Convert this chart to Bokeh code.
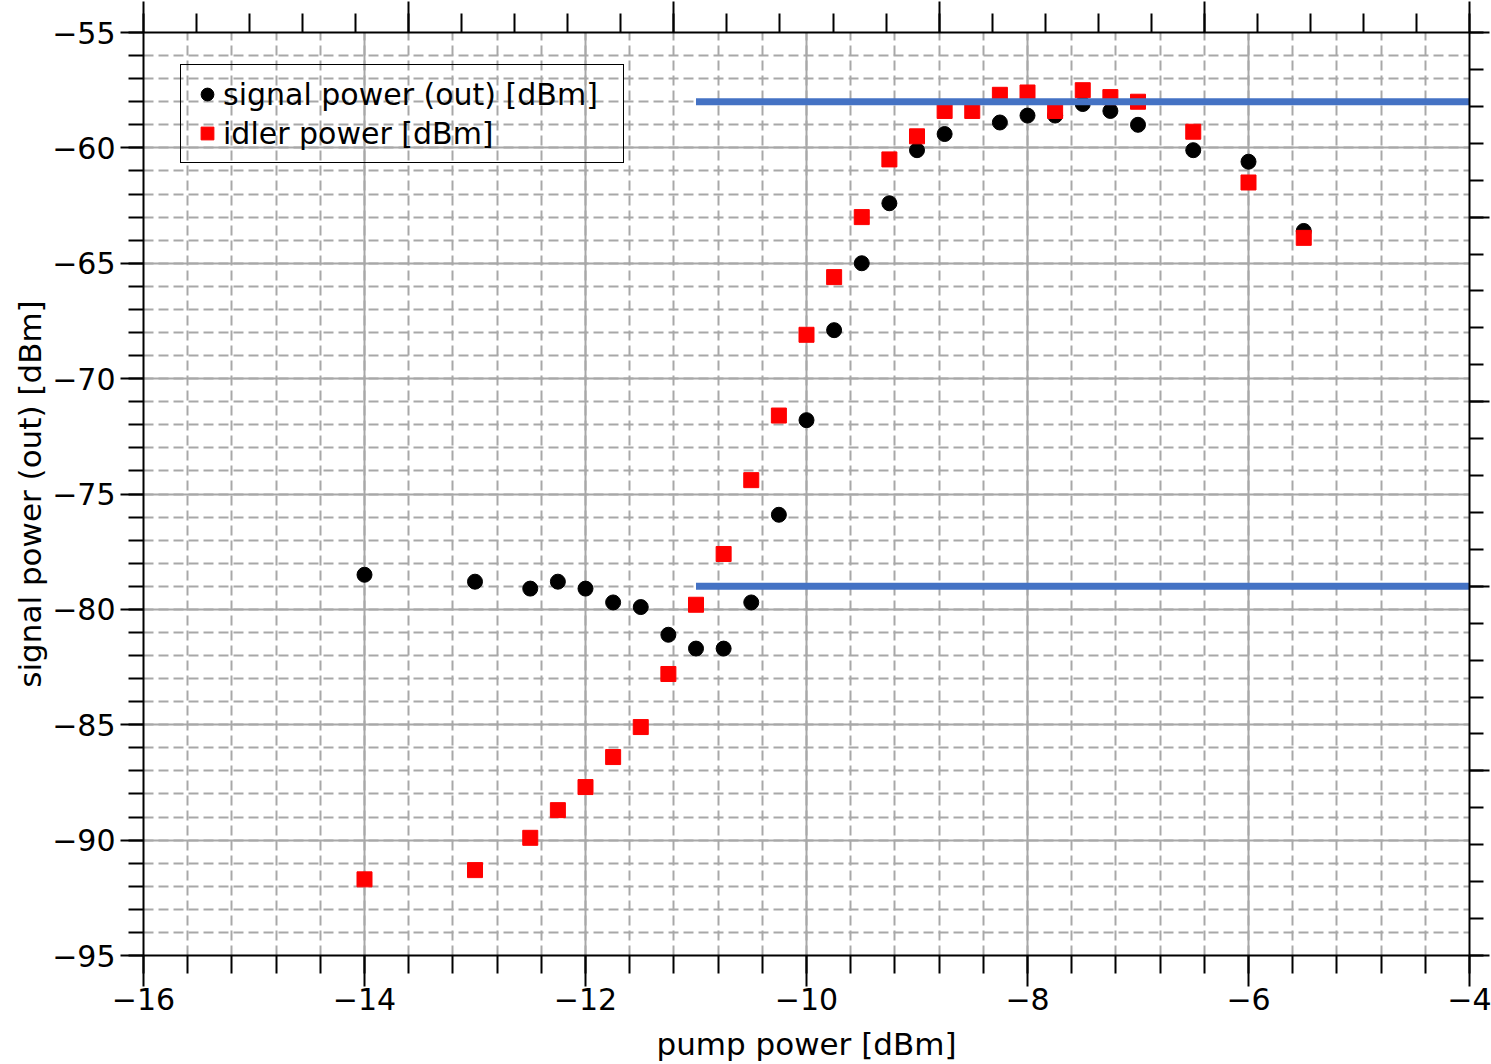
from bokeh.plotting import figure
from bokeh.models import (Range1d, LinearAxis, SingleIntervalTicker, CustomJSTickFormatter,
                          Legend, LegendItem, ColumnDataSource, Grid)
from bokeh.embed import file_html
from bokeh.resources import INLINE

# ---- data ----
signal_x = [-14, -13, -12.5, -12.25, -12, -11.75, -11.5, -11.25, -11, -10.75, -10.5,
            -10.25, -10, -9.75, -9.5, -9.25, -9, -8.75, -8.25, -8, -7.75, -7.5,
            -7.25, -7, -6.5, -6, -5.5]
signal_y = [-78.5, -78.8, -79.1, -78.8, -79.1, -79.7, -79.9, -81.1, -81.7, -81.7, -79.7,
            -75.9, -71.8, -67.9, -65.0, -62.4, -60.1, -59.4, -58.9, -58.6, -58.6, -58.1,
            -58.4, -59.0, -60.1, -60.6, -63.6]

idler_x = [-14, -13, -12.5, -12.25, -12, -11.75, -11.5, -11.25, -11, -10.75, -10.5,
           -10.25, -10, -9.75, -9.5, -9.25, -9, -8.75, -8.5, -8.25, -8, -7.75, -7.5,
           -7.25, -7, -6.5, -6, -5.5]
idler_y = [-91.7, -91.3, -89.9, -88.7, -87.7, -86.4, -85.1, -82.8, -79.8, -77.6, -74.4,
           -71.6, -68.1, -65.6, -63.0, -60.5, -59.5, -58.4, -58.4, -57.7, -57.6, -58.4, -57.5,
           -57.8, -58.0, -59.3, -61.5, -63.9]

ref_levels = [-58.0, -79.0]
ref_start = -11.0

x_min, x_max = -16, -4
y_min, y_max = -95, -55

signal_label = "signal power (out) [dBm]"
idler_label = "idler power [dBm]"
x_title = "pump power [dBm]"
y_title = "signal power (out) [dBm]"

FONT = "DejaVu Sans"
GRID = "#a8a8a8"

p = figure(width=1491, height=1064, output_backend="svg", toolbar_location=None,
           x_range=Range1d(x_min, x_max), y_range=Range1d(y_min, y_max),
           min_border_left=143, min_border_right=22, min_border_top=32, min_border_bottom=109,
           x_axis_location=None, y_axis_location=None)
p.outline_line_color = None
p.background_fill_color = "white"
p.border_fill_color = "white"

minus_fmt = CustomJSTickFormatter(code="return tick < 0 ? '\\u2212' + Math.abs(tick) : String(tick);")
blank_fmt = CustomJSTickFormatter(code="return '';")

xticker = SingleIntervalTicker(interval=2, num_minor_ticks=5)
yticker = SingleIntervalTicker(interval=5, num_minor_ticks=5)

def style_axis(ax, tick_out, minor_out):
    ax.axis_line_color = "black"
    ax.axis_line_width = 2
    ax.major_tick_line_color = "black"
    ax.major_tick_line_width = 2
    ax.minor_tick_line_color = "black"
    ax.minor_tick_line_width = 2
    ax.major_tick_in = 0
    ax.minor_tick_in = 0
    ax.major_tick_out = tick_out
    ax.minor_tick_out = minor_out
    ax.major_label_text_font = FONT
    ax.major_label_text_font_size = "30px"
    ax.major_label_text_color = "black"
    ax.axis_label_text_font = FONT
    ax.axis_label_text_font_size = "31px"
    ax.axis_label_text_font_style = "normal"
    ax.axis_label_text_color = "black"

xaxis = LinearAxis(ticker=xticker, formatter=minus_fmt, axis_label=x_title)
style_axis(xaxis, 31, 18)
xaxis.major_label_standoff = 1
xaxis.axis_label_standoff = 13
p.add_layout(xaxis, "below")

yaxis = LinearAxis(ticker=yticker, formatter=minus_fmt, axis_label=y_title)
style_axis(yaxis, 23, 15)
yaxis.major_label_standoff = 5
yaxis.axis_label_standoff = 1
p.add_layout(yaxis, "left")

p.extra_x_ranges = {"top": Range1d(0, 5)}
p.extra_y_ranges = {"right": Range1d(0, 5)}
top_axis = LinearAxis(x_range_name="top", ticker=SingleIntervalTicker(interval=1, num_minor_ticks=5),
                      formatter=blank_fmt)
style_axis(top_axis, 31, 19)
top_axis.major_label_text_font_size = "1px"
top_axis.major_label_standoff = 0
p.add_layout(top_axis, "above")

right_axis = LinearAxis(y_range_name="right", ticker=SingleIntervalTicker(interval=1, num_minor_ticks=5),
                        formatter=blank_fmt)
style_axis(right_axis, 20, 14)
right_axis.major_label_text_font_size = "1px"
right_axis.major_label_standoff = 0
p.add_layout(right_axis, "right")

for dim, tk in ((0, xticker), (1, yticker)):
    g = Grid(dimension=dim, ticker=tk)
    g.grid_line_color = GRID
    g.grid_line_width = 2
    g.minor_grid_line_color = GRID
    g.minor_grid_line_width = 2
    g.minor_grid_line_dash = "10 5"
    g.level = "underlay"
    p.add_layout(g)

r_sig = p.scatter(signal_x, signal_y, marker="circle", size=15, color="black")
r_idl = p.scatter(idler_x, idler_y, marker="square", size=15, color="#ff0000")

ref_src = ColumnDataSource(dict(x0=[ref_start] * len(ref_levels), x1=[x_max] * len(ref_levels),
                                y=ref_levels))
p.segment(x0="x0", y0="y", x1="x1", y1="y", source=ref_src, line_color="#4472c4", line_width=7)

legend = Legend(items=[LegendItem(label=signal_label, renderers=[r_sig]),
                       LegendItem(label=idler_label, renderers=[r_idl])],
                location=(37, 792))
legend.label_text_font = FONT
legend.label_text_font_size = "30px"
legend.label_text_color = "black"
legend.glyph_width = 32
legend.glyph_height = 38
legend.label_standoff = 0
legend.label_width = 390
legend.padding = 10
legend.spacing = 1
legend.margin = 0
legend.border_line_color = "black"
legend.border_line_alpha = 1.0
legend.border_line_width = 1.5
legend.background_fill_alpha = 0
p.add_layout(legend, "center")

open("out.html", "w").write(file_html(p, INLINE))
